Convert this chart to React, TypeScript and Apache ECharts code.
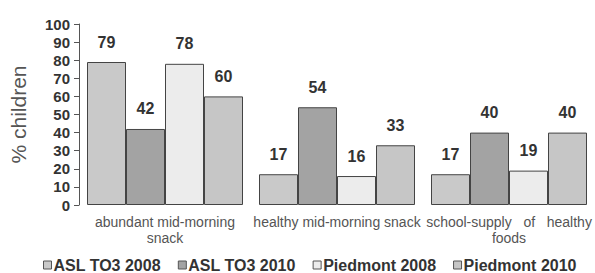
import React, { useEffect, useRef } from "react";
import * as echarts from "echarts";

const categories = [
  "abundant mid-morning\nsnack",
  "healthy mid-morning snack",
  "school-supply   of   healthy\nfoods",
];
const seriesNames = ["ASL TO3 2008", "ASL TO3 2010", "Piedmont 2008", "Piedmont 2010"];
const asl2008 = [79, 17, 17];
const asl2010 = [42, 54, 40];
const piedmont2008 = [78, 16, 19];
const piedmont2010 = [60, 33, 40];
const yTicks = { min: 0, max: 100, interval: 10 };

const colors = ["#c9c9c9", "#a3a3a3", "#ececec", "#c6c6c6"];

export default function App() {
  const ref = useRef<HTMLDivElement>(null);
  useEffect(() => {
    if (!ref.current) return;
    const chart = echarts.init(ref.current, undefined, { renderer: "svg" });
    const values = [asl2008, asl2010, piedmont2008, piedmont2010];
    chart.setOption({
      animation: false,
      backgroundColor: "#ffffff",
      grid: { left: 72, top: 24, width: 528, height: 181 },
      legend: {
        left: 43,
        top: 257,
        width: 560,
        padding: 0,
        itemWidth: 8,
        itemHeight: 8,
        itemGap: 17,
        icon: "rect",
        data: seriesNames,
        itemStyle: { borderColor: "#555", borderWidth: 1 },
        textStyle: {
          fontFamily: "Arial, Liberation Sans, sans-serif",
          fontWeight: "bold",
          fontSize: 16,
          lineHeight: 16,
          color: "#333",
          padding: [0, 0, 0, -3],
        },
      },
      xAxis: {
        type: "category",
        data: categories,
        axisLine: { show: false },
        axisTick: { show: false },
        axisLabel: {
          interval: 0,
          margin: 9,
          fontFamily: "Arial, Liberation Sans, sans-serif",
          fontSize: 14,
          lineHeight: 16,
          color: "#555",
        },
      },
      yAxis: {
        type: "value",
        min: yTicks.min,
        max: yTicks.max,
        interval: yTicks.interval,
        name: "% children",
        nameLocation: "middle",
        nameGap: 50,
        nameTextStyle: {
          fontFamily: "Arial, Liberation Sans, sans-serif",
          fontSize: 21,
          color: "#555",
        },
        axisLine: { show: true, lineStyle: { color: "#555", width: 1 } },
        axisTick: { show: true, length: 5, lineStyle: { color: "#555" } },
        splitLine: { show: false },
        axisLabel: {
          margin: 9,
          fontFamily: "Arial, Liberation Sans, sans-serif",
          fontWeight: "bold",
          fontSize: 15,
          color: "#333",
        },
      },
      series: seriesNames.map((name, i) => ({
        name,
        type: "bar",
        data: values[i],
        barWidth: 39,
        barGap: "0%",
        itemStyle: { color: colors[i], borderColor: "#444", borderWidth: 1 },
        label: {
          show: true,
          position: "top",
          distance: 12,
          fontFamily: "Arial, Liberation Sans, sans-serif",
          fontWeight: "bold",
          fontSize: 16,
          color: "#333",
        },
      })),
    });
    return () => chart.dispose();
  }, []);
  return (
    <div
      ref={ref}
      style={{ position: "fixed", left: 0, top: 0, width: 595, height: 273 }}
    />
  );
}
